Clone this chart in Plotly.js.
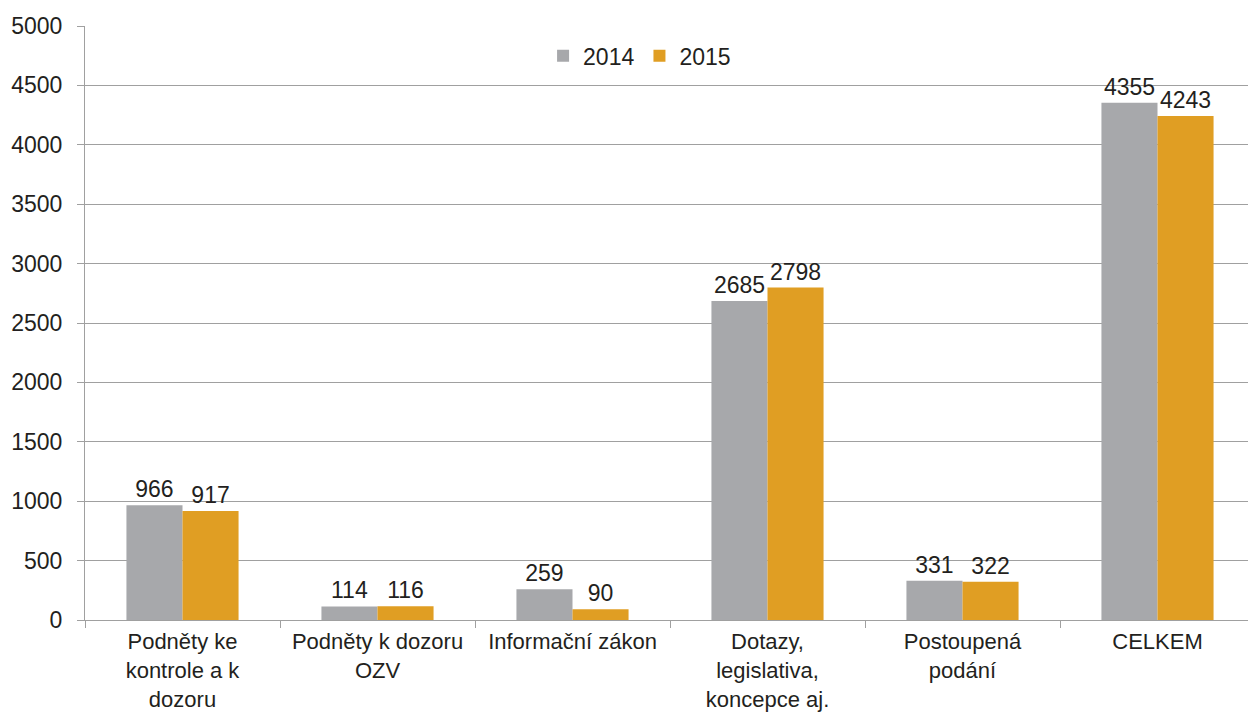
<!DOCTYPE html>
<html>
<head>
<meta charset="utf-8">
<script src="https://cdn.plot.ly/plotly-3.0.1.min.js"></script>
<style>
html,body{margin:0;padding:0;overflow:hidden;background:#fff;}
#chart{width:1256px;height:714px;}
</style>
</head>
<body>
<div id="chart"></div>
<script>
const categories = ["Podněty ke<br>kontrole a k<br>dozoru", "Podněty k dozoru<br>OZV", "Informační zákon", "Dotazy,<br>legislativa,<br>koncepce aj.", "Postoupená<br>podání", "CELKEM"];
const values2014 = [966, 114, 259, 2685, 331, 4355];
const values2015 = [917, 116, 90, 2798, 322, 4243];
const seriesNames = ["2014", "2015"];
const yTicks = [0, 500, 1000, 1500, 2000, 2500, 3000, 3500, 4000, 4500, 5000];

const font = "Liberation Sans, Arial, sans-serif";
const trace = (name, vals, color) => ({
  type: "bar", name: name, x: categories, y: vals,
  marker: {color: color},
  text: vals.map(String), textposition: "outside", cliponaxis: false,
  textfont: {family: font, size: 23, color: "#231f20"}
});
const data = [trace(seriesNames[0], values2014, "#a7a8ab"), trace(seriesNames[1], values2015, "#e09e23")];
const layout = {
  width: 1256, height: 714,
  margin: {l: 85, r: 1, t: 26, b: 94},
  paper_bgcolor: "#fff", plot_bgcolor: "#fff",
  barmode: "group", bargap: 0.425, bargroupgap: 0,
  font: {family: font, size: 22, color: "#231f20"},
  showlegend: true,
  legend: {orientation: "h", x: 0.474, xanchor: "center", y: 0.95, yanchor: "middle",
           font: {family: font, size: 23, color: "#231f20"}, itemwidth: 30, traceorder: "normal", bgcolor: "rgba(0,0,0,0)"},
  xaxis: {type: "category", tickson: "boundaries", ticks: "outside", ticklen: 7, tickcolor: "#a0a0a0",
          showline: true, linecolor: "#a0a0a0", linewidth: 1, showgrid: false, zeroline: false,
          ticklabelstandoff: 2,
          tickfont: {family: font, size: 22, color: "#231f20"}, range: [-0.5, 5.5]},
  yaxis: {range: [0, 5000], tickvals: yTicks, ticktext: yTicks.map(String), ticks: "outside", ticklen: 7,
          tickcolor: "#a0a0a0", showline: true, linecolor: "#a0a0a0", showgrid: true, gridcolor: "#a0a0a0",
          gridwidth: 1, zeroline: false, ticklabelstandoff: 10, tickfont: {family: font, size: 23, color: "#231f20"}}
};
Plotly.newPlot("chart", data, layout, {displayModeBar: false, staticPlot: true});
</script>
</body>
</html>
